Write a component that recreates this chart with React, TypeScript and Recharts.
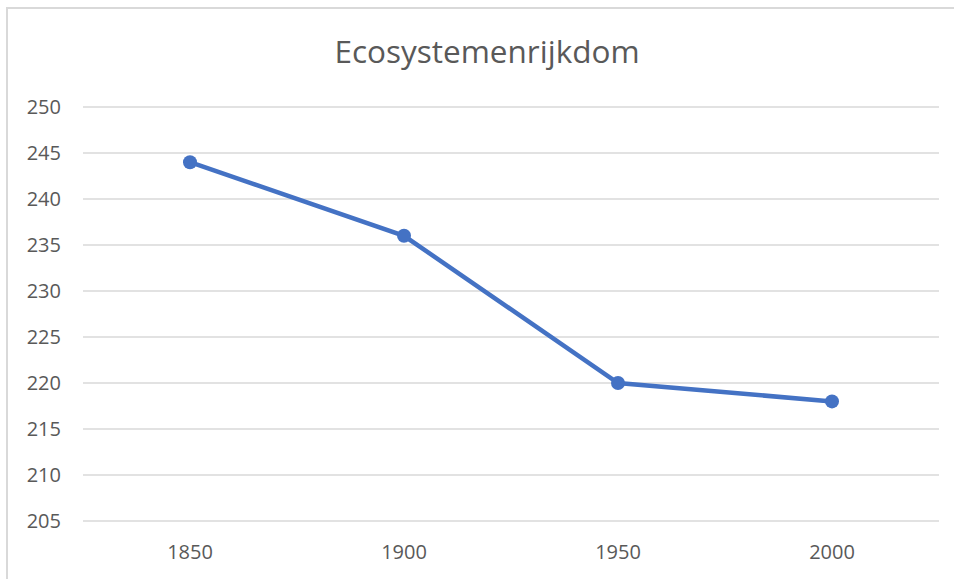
import React from 'react';
import { LineChart, Line, XAxis, YAxis, CartesianGrid } from 'recharts';

const title = 'Ecosystemenrijkdom';
const years = ['1850', '1900', '1950', '2000'];
const richness = [244, 236, 220, 218];
const yTicks = [205, 210, 215, 220, 225, 230, 235, 240, 245, 250];

const data = years.map((y, i) => ({ year: y, value: richness[i] }));

const FONT = '"Open Sans", "Liberation Sans", sans-serif';

export default function App() {
  return (
    <div style={{ position: 'absolute', left: 0, top: 0, width: 954, height: 579, overflow: 'hidden', background: '#fff' }}>
      <div style={{ position: 'absolute', left: 6, top: 7, width: 1000, height: 700, border: '2px solid #d9d9d9', boxSizing: 'border-box' }} />
      <div style={{ position: 'absolute', left: 287, width: 400, top: 31, textAlign: 'center', fontFamily: FONT, fontSize: 31.5, color: '#595959', lineHeight: '40px', whiteSpace: 'nowrap' }}>
        {title}
      </div>
      <div style={{ position: 'absolute', left: 0, top: 0 }}>
        <LineChart width={954} height={579} data={data} margin={{ top: 107, right: 15, bottom: 0, left: 0 }}>
          <CartesianGrid horizontal vertical={false} stroke="#d9d9d9" strokeWidth={1.5} />
          <XAxis
            dataKey="year"
            scale="band"
            height={58}
            axisLine={false}
            tickLine={false}
            tickSize={0}
            tickMargin={24}
            tick={{ fill: '#595959', fontSize: 20, fontFamily: FONT }}
          />
          <YAxis
            width={83}
            domain={[205, 250]}
            ticks={yTicks}
            interval={0}
            axisLine={false}
            tickLine={false}
            tickSize={0}
            tickMargin={22}
            tick={{ fill: '#595959', fontSize: 20, fontFamily: FONT }}
          />
          <Line
            type="linear"
            dataKey="value"
            stroke="#4472C4"
            strokeWidth={4.5}
            dot={{ r: 7, fill: '#4472C4', stroke: 'none' }}
            isAnimationActive={false}
          />
        </LineChart>
      </div>
    </div>
  );
}
